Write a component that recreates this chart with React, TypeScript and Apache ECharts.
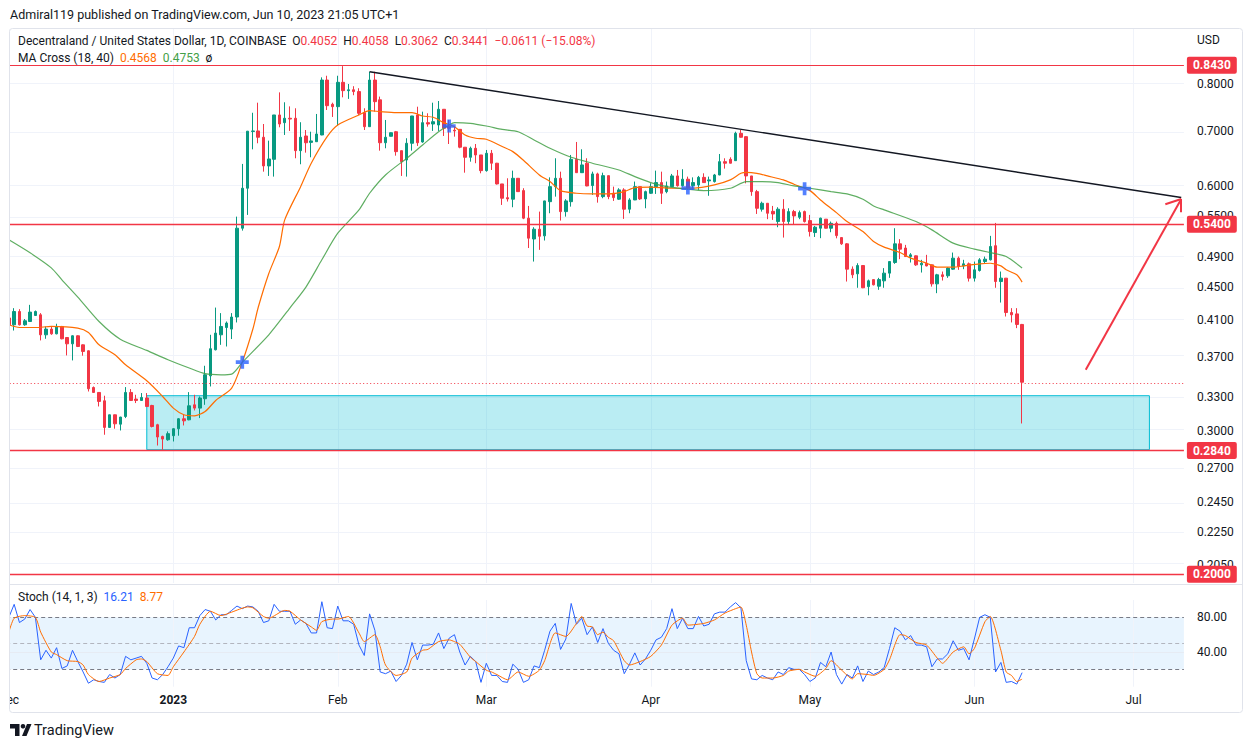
import React, { useEffect, useRef } from 'react';
import * as echarts from 'echarts';

// ---------- categories (one per calendar day, Dec 1 2022 .. Jul 11 2023) ----------
const FIRST_DAY = Date.UTC(2022, 11, 1);
const DAY_MS = 86400000;
const DAY_COUNT = 222;
const dates: string[] = Array.from({ length: DAY_COUNT }, (_, i) =>
  new Date(FIRST_DAY + i * DAY_MS).toISOString().slice(0, 10)
);
const MONTHS = ['Jan', 'Feb', 'Mar', 'Apr', 'May', 'Jun', 'Jul', 'Aug', 'Sep', 'Oct', 'Nov', 'Dec'];

// ---------- candles [open, high, low, close] ----------
const ohlcDec2022 = [
  [0.4127, 0.414, 0.404, 0.4048], [0.4048, 0.4243, 0.3983, 0.4203], [0.4203, 0.4231, 0.404, 0.4048],
  [0.4048, 0.4115, 0.4037, 0.4094], [0.4086, 0.4283, 0.408, 0.4196], [0.4156, 0.4215, 0.415, 0.4203],
  [0.4164, 0.4184, 0.3873, 0.3935], [0.3935, 0.4029, 0.3891, 0.3999], [0.3999, 0.4029, 0.3935, 0.3946],
  [0.3946, 0.406, 0.394, 0.4029], [0.4029, 0.4035, 0.3885, 0.3891], [0.3905, 0.391, 0.3712, 0.3836],
  [0.3836, 0.393, 0.366, 0.3924], [0.3924, 0.393, 0.3801, 0.3807], [0.3825, 0.383, 0.3709, 0.3754],
  [0.3761, 0.3765, 0.3352, 0.3378], [0.339, 0.34, 0.334, 0.3343], [0.3343, 0.3345, 0.3213, 0.3259],
  [0.3265, 0.3312, 0.2966, 0.3028], [0.3028, 0.314, 0.3025, 0.3138], [0.3138, 0.314, 0.3017, 0.3059],
  [0.3056, 0.312, 0.3002, 0.3118], [0.3123, 0.3394, 0.3109, 0.3343], [0.3343, 0.3375, 0.3265, 0.3268],
  [0.3281, 0.3321, 0.3244, 0.3268], [0.3268, 0.3337, 0.3265, 0.3296], [0.3291, 0.3337, 0.3207, 0.3213],
  [0.3222, 0.3228, 0.3028, 0.3036], [0.3051, 0.3059, 0.2877, 0.2947], [0.2952, 0.2958, 0.2843, 0.293],
  [0.2924, 0.2994, 0.2916, 0.2975],
];
const ohlcJan2023 = [
  [0.2958, 0.302, 0.291, 0.3017], [0.3017, 0.3109, 0.2958, 0.3103], [0.3103, 0.3138, 0.3045, 0.3085],
  [0.3094, 0.3346, 0.309, 0.3219], [0.3228, 0.3321, 0.3177, 0.3198], [0.3198, 0.3305, 0.3109, 0.3291],
  [0.3284, 0.3605, 0.3228, 0.3514], [0.3504, 0.3935, 0.34, 0.3783], [0.3772, 0.425, 0.3765, 0.3954],
  [0.3935, 0.4184, 0.3825, 0.4029], [0.4017, 0.4086, 0.3807, 0.4068], [0.3999, 0.4184, 0.3888, 0.4138],
  [0.4138, 0.5497, 0.4075, 0.532], [0.532, 0.6381, 0.5284, 0.5957], [0.5957, 0.7005, 0.5524, 0.7],
  [0.6995, 0.7375, 0.665, 0.7005], [0.7005, 0.7588, 0.6765, 0.6881], [0.6881, 0.7144, 0.6243, 0.6345],
  [0.6345, 0.6815, 0.6168, 0.6471], [0.6465, 0.7329, 0.6156, 0.7329], [0.7329, 0.7813, 0.7078, 0.7144],
  [0.7171, 0.7597, 0.6926, 0.7261], [0.7261, 0.7509, 0.7005, 0.7245], [0.7261, 0.7469, 0.6484, 0.6625],
  [0.6625, 0.718, 0.6375, 0.6881], [0.6906, 0.7024, 0.6588, 0.6775], [0.6782, 0.699, 0.6502, 0.681],
  [0.6795, 0.735, 0.679, 0.6945], [0.6926, 0.8152, 0.692, 0.809], [0.809, 0.8189, 0.7433, 0.7524],
  [0.7554, 0.7588, 0.7288, 0.7503],
];
const ohlcFeb2023 = [
  [0.7503, 0.8189, 0.711, 0.8038], [0.8038, 0.8414, 0.7704, 0.7851], [0.785, 0.8, 0.767, 0.787],
  [0.787, 0.795, 0.775, 0.783], [0.783, 0.7905, 0.7329, 0.7364], [0.7376, 0.7469, 0.7024, 0.709],
  [0.709, 0.8282, 0.7085, 0.809], [0.809, 0.8282, 0.7398, 0.761], [0.765, 0.772, 0.6625, 0.6775],
  [0.6775, 0.7226, 0.667, 0.6881], [0.69, 0.6975, 0.6895, 0.697], [0.699, 0.7005, 0.6532, 0.6607],
  [0.6625, 0.6625, 0.6168, 0.6422], [0.6453, 0.6862, 0.6156, 0.6765], [0.6765, 0.731, 0.6625, 0.7308],
  [0.7329, 0.7502, 0.6714, 0.6775], [0.679, 0.7398, 0.6775, 0.7171], [0.7171, 0.7364, 0.709, 0.7144],
  [0.7144, 0.7588, 0.7005, 0.7191], [0.7124, 0.7624, 0.7005, 0.7448], [0.7448, 0.745, 0.6906, 0.7058],
  [0.71, 0.7226, 0.6751, 0.7058], [0.702, 0.709, 0.6893, 0.7005], [0.7037, 0.7037, 0.667, 0.669],
  [0.669, 0.669, 0.6225, 0.6502], [0.6502, 0.6701, 0.6422, 0.667], [0.667, 0.6751, 0.6394, 0.6545],
  [0.6545, 0.6545, 0.6214, 0.6261],
];
const ohlcMar2023 = [
  [0.6261, 0.6638, 0.6243, 0.6576], [0.6576, 0.6638, 0.6273, 0.6394], [0.6394, 0.64, 0.602, 0.603],
  [0.603, 0.603, 0.5682, 0.5791], [0.58, 0.6127, 0.5737, 0.578], [0.5775, 0.6261, 0.5645, 0.6127],
  [0.6127, 0.613, 0.5898, 0.59], [0.5917, 0.5957, 0.5458, 0.5473], [0.5473, 0.5666, 0.503, 0.5172],
  [0.516, 0.5335, 0.4841, 0.5305], [0.5305, 0.5576, 0.5004, 0.52], [0.5206, 0.575, 0.5138, 0.5747],
  [0.5735, 0.6143, 0.555, 0.5984], [0.5984, 0.6484, 0.5817, 0.6127], [0.6127, 0.6243, 0.5436, 0.5576],
  [0.5576, 0.5775, 0.5497, 0.5747], [0.5735, 0.6545, 0.5655, 0.6465], [0.6465, 0.679, 0.622, 0.6225],
  [0.6225, 0.6651, 0.622, 0.6363], [0.6394, 0.6484, 0.599, 0.5996], [0.6002, 0.6243, 0.5845, 0.6203],
  [0.6203, 0.6225, 0.5719, 0.5817], [0.5817, 0.6225, 0.5791, 0.6173], [0.6173, 0.6175, 0.5775, 0.5817],
  [0.5873, 0.5984, 0.5747, 0.5801], [0.5775, 0.5957, 0.5763, 0.5929], [0.5929, 0.5957, 0.5462, 0.5614],
  [0.5614, 0.5791, 0.555, 0.5763], [0.5763, 0.607, 0.576, 0.5984], [0.5984, 0.5985, 0.5763, 0.578],
  [0.578, 0.5917, 0.5629, 0.59],
];
const ohlcApr2023 = [
  [0.5873, 0.6042, 0.5862, 0.5984], [0.5984, 0.6261, 0.5862, 0.6053], [0.6053, 0.6243, 0.5698, 0.5873],
  [0.59, 0.607, 0.5873, 0.5996], [0.5984, 0.6203, 0.598, 0.6168], [0.6168, 0.6273, 0.5984, 0.6],
  [0.6, 0.6286, 0.5984, 0.6111], [0.6111, 0.6156, 0.5929, 0.5957], [0.6, 0.6143, 0.5929, 0.6053],
  [0.6013, 0.6168, 0.5929, 0.6143], [0.6143, 0.6214, 0.605, 0.6053], [0.6082, 0.6156, 0.5831, 0.6099],
  [0.607, 0.6203, 0.6053, 0.6185], [0.6185, 0.6563, 0.618, 0.6422], [0.6422, 0.6484, 0.6297, 0.6394],
  [0.6465, 0.6502, 0.639, 0.6394], [0.644, 0.699, 0.6435, 0.6958], [0.6958, 0.7024, 0.6875, 0.6881],
  [0.6893, 0.69, 0.604, 0.6168], [0.6168, 0.6168, 0.5831, 0.59], [0.59, 0.5929, 0.5539, 0.5629],
  [0.5614, 0.5735, 0.5576, 0.5709], [0.5709, 0.571, 0.5458, 0.555], [0.558, 0.5666, 0.5447, 0.5539],
  [0.5421, 0.5645, 0.5335, 0.5614], [0.5614, 0.5775, 0.5181, 0.5421], [0.5421, 0.5629, 0.537, 0.5576],
  [0.5576, 0.5603, 0.537, 0.5508], [0.5487, 0.5592, 0.5458, 0.556], [0.5576, 0.5592, 0.5406, 0.5421],
];
const ohlcMay2023 = [
  [0.5436, 0.5524, 0.5196, 0.527], [0.5255, 0.5355, 0.519, 0.5335], [0.532, 0.5481, 0.5172, 0.5473],
  [0.5458, 0.546, 0.5315, 0.532], [0.532, 0.5421, 0.526, 0.5394], [0.5394, 0.5421, 0.517, 0.521],
  [0.5181, 0.5185, 0.5075, 0.509], [0.509, 0.51, 0.4575, 0.4738], [0.4738, 0.4775, 0.4619, 0.4663],
  [0.4676, 0.4818, 0.4495, 0.4787], [0.4787, 0.479, 0.449, 0.4495], [0.451, 0.46, 0.44, 0.4584],
  [0.46, 0.46, 0.4525, 0.4533], [0.4515, 0.4623, 0.4469, 0.46], [0.4584, 0.4752, 0.4495, 0.4685],
  [0.4685, 0.4845, 0.4623, 0.4841], [0.4828, 0.532, 0.481, 0.509], [0.509, 0.5158, 0.4874, 0.5014],
  [0.503, 0.5075, 0.4905, 0.491], [0.491, 0.4958, 0.4828, 0.4934], [0.492, 0.4925, 0.4782, 0.4796],
  [0.4796, 0.4865, 0.4693, 0.4818], [0.4818, 0.4934, 0.4775, 0.4782], [0.4796, 0.48, 0.451, 0.4545],
  [0.4545, 0.4676, 0.4427, 0.4663], [0.4663, 0.4706, 0.4588, 0.464], [0.465, 0.4765, 0.4623, 0.4752],
  [0.4738, 0.4966, 0.4729, 0.4888], [0.4888, 0.491, 0.4729, 0.4775], [0.4782, 0.4865, 0.4738, 0.481],
  [0.481, 0.4828, 0.4575, 0.4619],
];
const ohlcJun2023 = [
  [0.4619, 0.4841, 0.4575, 0.4729], [0.472, 0.4888, 0.4706, 0.4865], [0.4841, 0.491, 0.481, 0.4874],
  [0.4865, 0.5206, 0.4856, 0.5052], [0.5063, 0.54, 0.4495, 0.4575], [0.4575, 0.4706, 0.4311, 0.4619],
  [0.4619, 0.462, 0.4144, 0.4191], [0.4191, 0.4243, 0.4075, 0.4164], [0.4175, 0.4243, 0.401, 0.4052],
  [0.4052, 0.4058, 0.3062, 0.3441],
];

// ---------- MA Cross (18, 40): [day index, value] ----------
const maFast = [
  [0.2, 0.4048], [2.1, 0.4017], [4.9, 0.4017], [7.8, 0.4029], [12.8, 0.401], [14.7, 0.3961], [17.2, 0.3825],
  [19.6, 0.3719], [22.3, 0.3615], [26, 0.3455], [28.5, 0.3305], [30.9, 0.3198], [32.8, 0.3138], [34.7, 0.3129],
  [36.6, 0.3167], [39.2, 0.3268], [42.1, 0.3384], [44, 0.3642], [45.5, 0.4], [46.7, 0.4251], [48.9, 0.468],
  [50.5, 0.5052], [52.4, 0.5447], [54.9, 0.5984], [57.4, 0.6394], [59.9, 0.6893], [62.1, 0.7124], [65.6, 0.7329],
  [67.8, 0.7419], [69.6, 0.7398], [72.8, 0.7376], [75.9, 0.7376], [78.1, 0.7308], [80, 0.7281], [81.9, 0.7171],
  [84.1, 0.709], [86, 0.6926], [87.9, 0.6862], [90.4, 0.6843], [92.9, 0.6702], [94.8, 0.6607], [97.3, 0.6447],
  [99.8, 0.6185], [102, 0.607], [104.2, 0.5917], [106.7, 0.5873], [109.9, 0.5862], [113, 0.5862], [116.1, 0.59],
  [118, 0.5968], [121.2, 0.5975], [124.9, 0.5957], [128.7, 0.5957], [133.1, 0.6013], [135.6, 0.6099],
  [137.5, 0.6214], [138.8, 0.6231], [140.6, 0.6214], [143.2, 0.6168], [145.7, 0.6099], [148.2, 0.6025],
  [150.7, 0.5917], [153.2, 0.5763], [155.7, 0.556], [158.2, 0.5421], [160.8, 0.527], [163.3, 0.5124],
  [165.2, 0.5043], [167.7, 0.4966], [170.2, 0.4888], [172.7, 0.4818], [175.2, 0.4765], [177.7, 0.4765],
  [180.2, 0.4782], [182.7, 0.481], [184.9, 0.4818], [186.5, 0.4782], [188.4, 0.4729], [190, 0.4663], [191, 0.4568],
];
const maSlow = [
  [0.2, 0.5148], [4, 0.4962], [7.8, 0.4755], [9.6, 0.4597], [12.8, 0.4378], [17.2, 0.4086], [21, 0.3887],
  [26, 0.3765], [29.8, 0.3667], [33.5, 0.3582], [36.7, 0.3525], [39.8, 0.3514], [42, 0.3521], [44, 0.364],
  [48.9, 0.3935], [53, 0.4247], [56.1, 0.4504], [59.3, 0.4865], [62.4, 0.5245], [65.6, 0.5603], [67.8, 0.5873],
  [70.9, 0.6185], [74.7, 0.6484], [77.8, 0.6733], [81, 0.699], [82.8, 0.7124], [84.1, 0.7171], [87.2, 0.7157],
  [90.4, 0.7104], [92.9, 0.7037], [96, 0.699], [99.2, 0.6829], [102.3, 0.667], [105.5, 0.6502], [109.9, 0.6394],
  [114.9, 0.6273], [118, 0.6156], [121.2, 0.6053], [124.3, 0.5984], [127.5, 0.594], [131.2, 0.5917],
  [135.6, 0.5957], [138.8, 0.607], [141.9, 0.607], [145, 0.6053], [148.2, 0.5996], [150.7, 0.5957],
  [154.5, 0.59], [157.6, 0.5862], [160.8, 0.5775], [163.3, 0.5666], [164.5, 0.5603], [170.8, 0.5421],
  [174, 0.5295], [178.3, 0.51], [182.1, 0.5014], [185.3, 0.4966], [187.8, 0.491], [190.8, 0.4753],
];
const crossPoints = [[44, 0.3642], [83, 0.7104], [128.3, 0.596], [150, 0.595]];

// ---------- Stoch (14, 1, 3) ----------
const stochKDec = [80, 95, 74, 78, 89, 80, 31, 42, 33, 45, 21, 24, 42, 29, 17, 4, 8, 6, 5, 14, 10, 14, 35, 31, 33, 35, 27, 10, 8, 14, 23];
const stochKJan = [33, 47, 45, 68, 68, 82, 89, 87, 77, 83, 83, 88, 93, 90, 93, 92, 87, 74, 76, 95, 87, 87, 87, 72, 77, 73, 62, 62, 98, 68, 67];
const stochKFeb = [93, 76, 76, 72, 48, 36, 84, 65, 17, 15, 18, 6, 13, 26, 51, 31, 48, 48, 49, 62, 44, 56, 60, 40, 25, 35, 29, 5];
const stochKMar = [27, 13, 13, 6, 5, 26, 20, 5, 8, 24, 22, 42, 64, 73, 43, 55, 96, 72, 79, 60, 69, 51, 67, 50, 42, 38, 15, 26, 39, 25, 32];
const stochKApr = [42, 54, 57, 67, 90, 67, 79, 67, 67, 81, 70, 72, 84, 86, 86, 92, 97, 91, 30, 9, 8, 13, 10, 8, 17, 14, 22, 20, 20, 14];
const stochKMay = [6, 10, 28, 23, 40, 14, 3, 14, 10, 24, 6, 18, 14, 17, 22, 44, 68, 64, 54, 59, 48, 48, 46, 23, 32, 32, 38, 53, 42, 44, 31];
const stochKJun = [55, 80, 83, 80, 17, 28, 5, 6, 3, 16.21];
const stochD = [
  [0.2, 63], [0.9, 79], [3, 82], [4.9, 80], [6, 63], [7.9, 40], [9, 37], [10.9, 30], [12.8, 29], [13.9, 25], [15, 14],
  [16.8, 6], [19, 10], [20.8, 14], [21.9, 21], [23.8, 31], [24.7, 32], [26, 29], [27.9, 15], [29.6, 13], [31, 23],
  [32.9, 40], [34.8, 58], [35.9, 72], [37.9, 87], [40.1, 82], [42.3, 86], [45, 92], [46.1, 91], [48, 81], [48.9, 79],
  [51.8, 88], [53, 87], [54.9, 77], [56.8, 69], [57.9, 65], [59, 75], [60.6, 78], [62.1, 78], [64, 81], [66, 62],
  [67, 52], [69, 60], [70, 46], [71.2, 25], [73, 13], [74.9, 17], [76, 33], [77.9, 42], [78.9, 43], [80.9, 52],
  [82.9, 54], [84, 52], [85, 49], [87, 34], [88, 29], [90, 19], [91, 17], [92, 14], [94, 8], [96, 17], [98, 12],
  [100, 19], [101, 30], [103, 62], [105, 58], [107, 73], [108, 81], [109, 70], [110, 69], [111, 60], [112, 63],
  [113, 57], [114, 53], [116, 30], [117, 25], [119, 29], [121, 35], [123, 48], [125, 71], [127, 79], [128, 71],
  [131, 73], [133, 77], [135, 85], [137, 90], [138, 92], [139, 71], [140, 40], [141, 15], [142, 10], [144, 10],
  [146, 13], [147, 18], [149, 20], [150, 17], [152, 12], [154, 21], [155, 30], [157, 19], [159, 9], [160, 15],
  [162, 14], [163, 13], [165, 20], [166, 31], [168, 60], [169, 59], [171, 51], [173, 48], [175, 33], [176, 27],
  [178, 40], [180, 46], [181, 38], [182, 44], [184, 75], [185, 81], [187, 42], [188, 17], [189, 13], [190, 6], [191, 8.77],
];

// ---------- axis ticks & levels ----------
const priceTicks = [0.8, 0.7, 0.6, 0.55, 0.49, 0.45, 0.41, 0.37, 0.33, 0.3, 0.27, 0.245, 0.225, 0.205];
const stochTicks = [40, 80];
const stochBands = [20, 50, 80];
const levelLines = [0.843, 0.54, 0.284, 0.2];
const lastClose = 0.3441;
const PRICE_TOP = 0.93468;
const PRICE_BOTTOM = 0.19499;

// drawings (in data space: [day index, price])
const demandZone = { fromDay: 26, toDay: 214.9, top: 0.3312, bottom: 0.2843 };
const trendLine = [[68.1, 0.8282], [221, 0.5802]];
const arrowShaft = [[202.9, 0.3564], [220.6, 0.5779]];
const arrowBarbs = [[[220.6, 0.5779], [217.5, 0.5693]], [[220.6, 0.5779], [221, 0.5565]]];

const FONT = 'Roboto, "Noto Sans", "DejaVu Sans", sans-serif';
const TEXT = '#131722';
const RED = '#f23645';
const GREEN = '#089981';
const GRID = '#f0f3fa';

const L = (v: number) => Math.log(v);

export default function App() {
  const ref = useRef<HTMLDivElement>(null);

  useEffect(() => {
    if (!ref.current) return;
    const chart = echarts.init(ref.current, undefined, { renderer: 'svg' });

    const ohlc = [...ohlcDec2022, ...ohlcJan2023, ...ohlcFeb2023, ...ohlcMar2023, ...ohlcApr2023, ...ohlcMay2023, ...ohlcJun2023];
    const candles = ohlc.map(([o, h, l, c]) => [L(o), L(c), L(l), L(h)]);
    const stochK = [...stochKDec, ...stochKJan, ...stochKFeb, ...stochKMar, ...stochKApr, ...stochKMay, ...stochKJun];
    const monthStarts = dates.map((d, i) => (d.endsWith('-01') ? i : -1)).filter((i) => i >= 0);

    const priceLabel = (v: number) => ({
      show: true,
      position: 'end',
      distance: 3,
      formatter: () => v.toFixed(4),
      color: '#ffffff',
      backgroundColor: RED,
      fontWeight: 'bold',
      fontSize: 12,
      fontFamily: FONT,
      padding: [3, 6, 2, 6],
      borderRadius: 2,
    });

    const seg = (a: number[], b: number[], style: any) => [
      { coord: [a[0], L(a[1])], lineStyle: style, label: { show: false } },
      { coord: [b[0], L(b[1])] },
    ];

    const option: any = {
      animation: false,
      textStyle: { fontFamily: FONT },
      grid: [
        { left: 6.2, right: 66.1, top: 29, height: 554, outerBoundsMode: 'none', containLabel: false },
        { left: 6.2, right: 66.1, top: 600, height: 86.7, outerBoundsMode: 'none', containLabel: false },
      ],
      xAxis: [
        {
          type: 'category', gridIndex: 0, data: dates, boundaryGap: true,
          axisLine: { show: false }, axisTick: { show: false }, axisLabel: { show: false }, splitLine: { show: false },
        },
        {
          type: 'category', gridIndex: 1, data: dates, boundaryGap: true,
          axisLine: { show: false }, axisTick: { show: false }, splitLine: { show: false },
          axisLabel: {
            interval: (_i: number, v: string) => v.endsWith('-01'),
            formatter: (v: string) => {
              const m = Number(v.slice(5, 7));
              return m === 1 ? '{y|' + v.slice(0, 4) + '}' : MONTHS[m - 1];
            },
            color: TEXT, fontSize: 12, margin: 7, fontFamily: FONT,
            rich: { y: { fontWeight: 'bold', color: TEXT, fontSize: 12, fontFamily: FONT } },
          },
        },
      ],
      yAxis: [
        {
          type: 'value', gridIndex: 0, position: 'right', min: L(PRICE_BOTTOM), max: L(PRICE_TOP),
          axisLine: { show: false }, axisTick: { show: false }, splitLine: { show: false },
          axisLabel: {
            customValues: priceTicks.map(L),
            formatter: (v: number) => Math.exp(v).toFixed(4),
            color: TEXT, fontSize: 12, margin: 13, fontFamily: FONT,
          },
        },
        {
          type: 'value', gridIndex: 1, position: 'right', min: 0, max: 100,
          axisLine: { show: false }, axisTick: { show: false }, splitLine: { show: false },
          axisLabel: {
            customValues: stochTicks,
            formatter: (v: number) => v.toFixed(2),
            color: TEXT, fontSize: 12, margin: 13, fontFamily: FONT,
          },
        },
      ],
      series: [
        // price pane grid lines
        {
          type: 'line', xAxisIndex: 0, yAxisIndex: 0, data: [], z: 1, silent: true,
          markLine: {
            z: 0, silent: true, symbol: ['none', 'none'], label: { show: false },
            lineStyle: { color: GRID, width: 1, type: 'solid' },
            data: [...priceTicks.map((t) => ({ yAxis: L(t) })), ...monthStarts.map((i) => ({ xAxis: i }))],
          },
        },
        // demand zone
        {
          type: 'line', xAxisIndex: 0, yAxisIndex: 0, data: [], z: 2, silent: true,
          markArea: {
            z: 1, silent: true,
            itemStyle: { color: 'rgba(0,188,212,0.27)', borderColor: '#00bcd4', borderWidth: 1 },
            data: [[
              { coord: [demandZone.fromDay, L(demandZone.top)] },
              { coord: [demandZone.toDay, L(demandZone.bottom)] },
            ]],
          },
        },
        // candles
        {
          type: 'candlestick', xAxisIndex: 0, yAxisIndex: 0, data: candles, z: 3, barWidth: 3,
          itemStyle: { color: GREEN, color0: RED, borderColor: GREEN, borderColor0: RED, borderWidth: 1 },
        },
        // MA 18
        {
          type: 'line', xAxisIndex: 0, yAxisIndex: 0, z: 4, showSymbol: false, smooth: 0.25, silent: true,
          data: maFast.map(([d, v]) => [d, L(v)]),
          lineStyle: { color: '#ff6d00', width: 1.2 },
        },
        // MA 40
        {
          type: 'line', xAxisIndex: 0, yAxisIndex: 0, z: 4, showSymbol: false, smooth: 0.25, silent: true,
          data: maSlow.map(([d, v]) => [d, L(v)]),
          lineStyle: { color: '#43a047', width: 1.2, opacity: 0.85 },
        },
        // horizontal levels, trend line, arrow
        {
          type: 'line', xAxisIndex: 0, yAxisIndex: 0, data: [], z: 5, silent: true,
          markLine: {
            z: 5, silent: true, symbol: ['none', 'none'], label: { show: false },
            data: [
              ...levelLines.map((v) => ({
                yAxis: L(v),
                lineStyle: { color: RED, width: v === 0.843 ? 1 : 1.3, type: 'solid' },
                label: priceLabel(v),
              })),
              { yAxis: L(lastClose), lineStyle: { color: RED, width: 1, type: [1, 2.5] }, label: { show: false } },
              seg(trendLine[0], trendLine[1], { color: TEXT, width: 1.4, type: 'solid' }),
              seg(arrowShaft[0], arrowShaft[1], { color: RED, width: 2, type: 'solid' }),
              ...arrowBarbs.map((b) => seg(b[0], b[1], { color: RED, width: 2, type: 'solid' })),
            ],
          },
        },
        // MA cross markers
        {
          type: 'scatter', xAxisIndex: 0, yAxisIndex: 0, z: 6, silent: true,
          symbol: 'path://M5,0H9V5H14V9H9V14H5V9H0V5H5Z', symbolSize: 13,
          itemStyle: { color: '#2962ff' },
          data: crossPoints.map(([d, v]) => [d, L(v)]),
        },
        // stoch pane background & guides
        {
          type: 'line', xAxisIndex: 1, yAxisIndex: 1, data: [], z: 1, silent: true,
          markArea: {
            z: 0, silent: true, itemStyle: { color: 'rgba(33,150,243,0.1)' },
            data: [[{ yAxis: stochBands[0] }, { yAxis: stochBands[2] }]],
          },
          markLine: {
            z: 1, silent: true, symbol: ['none', 'none'], label: { show: false },
            data: [
              ...monthStarts.map((i) => ({ xAxis: i, lineStyle: { color: GRID, width: 1, type: 'solid' } })),
              { yAxis: 40, lineStyle: { color: '#e6ebf3', width: 1, type: 'solid' } },
              { yAxis: stochBands[2], lineStyle: { color: '#787b86', width: 1, type: [4, 3] } },
              { yAxis: stochBands[1], lineStyle: { color: '#b2b5be', width: 1, type: [4, 3] } },
              { yAxis: stochBands[0], lineStyle: { color: '#787b86', width: 1, type: [4, 3] } },
            ],
          },
        },
        // %K
        {
          type: 'line', xAxisIndex: 1, yAxisIndex: 1, z: 3, showSymbol: false, silent: true,
          data: stochK, lineStyle: { color: '#2962ff', width: 1 },
        },
        // %D
        {
          type: 'line', xAxisIndex: 1, yAxisIndex: 1, z: 4, showSymbol: false, smooth: 0.2, silent: true,
          data: stochD, lineStyle: { color: '#ff6d00', width: 1 },
        },
      ],
      graphic: [
        { type: 'rect', z: 100, silent: true, shape: { x: 0, y: 27, width: 9.5, height: 690 }, style: { fill: '#ffffff' } },
        { type: 'rect', z: 101, silent: true, shape: { x: 9.5, y: 28.5, width: 1233, height: 684, r: 3 }, style: { fill: 'none', stroke: '#e0e3eb', lineWidth: 1 } },
        { type: 'line', z: 101, silent: true, shape: { x1: 9.5, y1: 584.5, x2: 1242.5, y2: 584.5 }, style: { stroke: '#e0e3eb', lineWidth: 1 } },
        {
          type: 'text', z: 102, x: 10, y: 14, silent: true,
          style: { text: 'Admiral119 published on TradingView.com, Jun 10, 2023 21:05 UTC+1', fill: TEXT, fontSize: 12.5, fontFamily: FONT, verticalAlign: 'middle', align: 'left' },
        },
        {
          type: 'text', z: 102, x: 18, y: 41, silent: true,
          style: {
            text: '{t|Decentraland / United States Dollar, 1D, COINBASE}  {t|O}{r|0.4052}  {t|H}{r|0.4058}  {t|L}{r|0.3062}  {t|C}{r|0.3441}  {r|\u22120.0611 (\u221215.08%)}',
            fontSize: 12, fontFamily: FONT, verticalAlign: 'middle', align: 'left', fill: TEXT,
            rich: { t: { fill: TEXT, fontSize: 12, fontFamily: FONT }, r: { fill: RED, fontSize: 12, fontFamily: FONT } },
          },
        },
        {
          type: 'text', z: 102, x: 18, y: 58, silent: true,
          style: {
            text: '{t|MA Cross (18, 40)}  {o|0.4568}  {g|0.4753}  {t|\u00f8}',
            fontSize: 12, fontFamily: FONT, verticalAlign: 'middle', align: 'left', fill: TEXT,
            rich: {
              t: { fill: TEXT, fontSize: 12, fontFamily: FONT },
              o: { fill: '#ff6d00', fontSize: 12, fontFamily: FONT },
              g: { fill: '#43a047', fontSize: 12, fontFamily: FONT },
            },
          },
        },
        {
          type: 'text', z: 102, x: 1197, y: 40, silent: true,
          style: { text: 'USD', fill: TEXT, fontSize: 12, fontFamily: FONT, verticalAlign: 'middle', align: 'left' },
        },
        {
          type: 'text', z: 102, x: 18, y: 597, silent: true,
          style: {
            text: '{t|Stoch (14, 1, 3)}  {b|16.21}  {o|8.77}',
            fontSize: 12, fontFamily: FONT, verticalAlign: 'middle', align: 'left', fill: TEXT,
            rich: {
              t: { fill: TEXT, fontSize: 12, fontFamily: FONT },
              b: { fill: '#2962ff', fontSize: 12, fontFamily: FONT },
              o: { fill: '#ff6d00', fontSize: 12, fontFamily: FONT },
            },
          },
        },
        // TradingView logo
        { type: 'polygon', z: 102, silent: true, shape: { points: [[10, 724], [19.5, 724], [19.5, 736], [15, 736], [15, 728.5], [10, 728.5]] }, style: { fill: TEXT } },
        { type: 'circle', z: 102, silent: true, shape: { cx: 23, cy: 726.3, r: 2.3 }, style: { fill: TEXT } },
        { type: 'polygon', z: 102, silent: true, shape: { points: [[27, 724], [31.5, 724], [26.5, 736], [22, 736]] }, style: { fill: TEXT } },
        {
          type: 'text', z: 102, x: 34, y: 730.5, silent: true,
          style: { text: 'TradingView', fill: TEXT, fontSize: 14.5, fontFamily: FONT, verticalAlign: 'middle', align: 'left' },
        },
      ],
    };

    chart.setOption(option);
    return () => chart.dispose();
  }, []);

  return <div ref={ref} style={{ position: 'absolute', left: 0, top: 0, width: 1250, height: 748, background: '#ffffff' }} />;
}
